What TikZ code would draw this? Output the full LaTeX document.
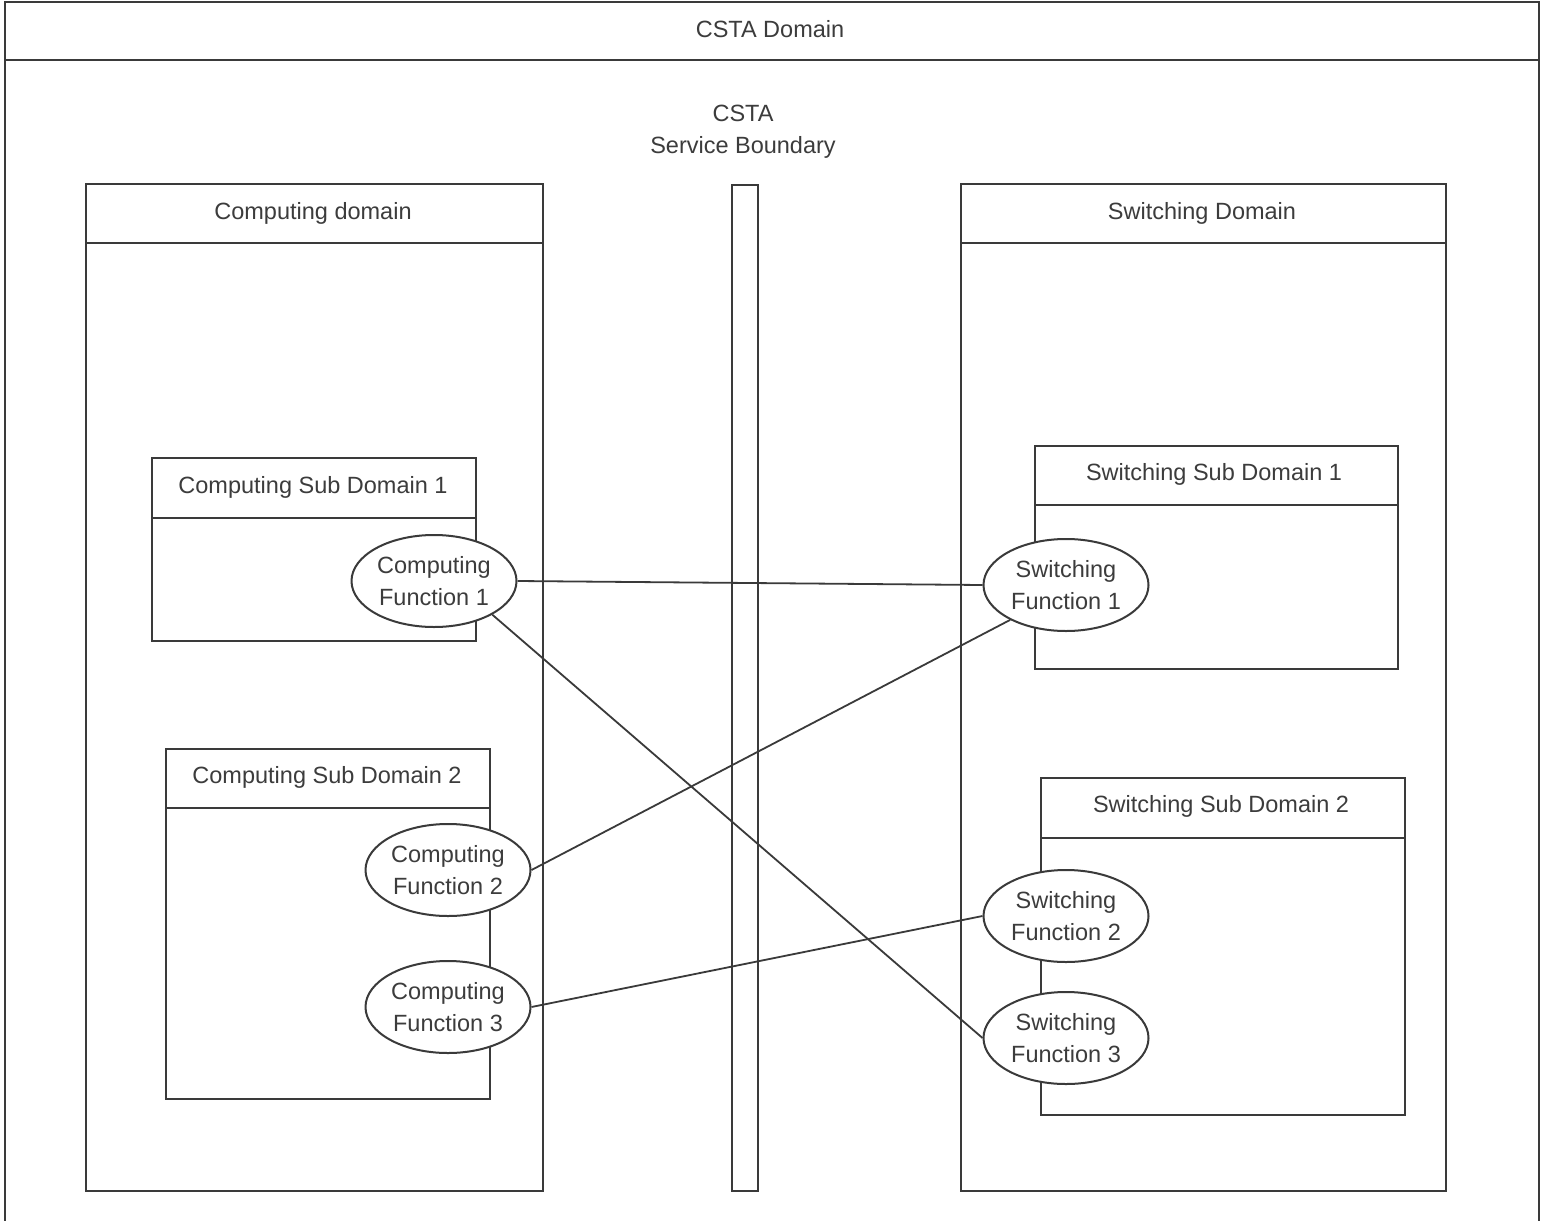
\documentclass[tikz,border=0pt]{standalone}
\usepackage{fontspec}
\setmainfont{Liberation Sans}
\usetikzlibrary{shapes.geometric}
\definecolor{lc}{HTML}{3A3A3A}
\definecolor{tc}{HTML}{3C3C3C}
\begin{document}
\begin{tikzpicture}[x=1pt,y=-1pt,
  ln/.style={draw=lc, line width=2.4pt},
  box/.style={ln, rectangle, inner sep=0pt, anchor=north west},
  ttl/.style={text=tc, font=\fontsize{23.5}{32}\selectfont, inner sep=0pt, align=center},
  fn/.style={ellipse, draw=lc, line width=2pt, fill=white, minimum width=165pt, minimum height=92pt, inner sep=0pt, text=tc, font=\fontsize{23.5}{32}\selectfont, align=center},
  conn/.style={draw=lc, line width=1.8pt}]
\useasboundingbox[fill=white] (0,0) rectangle (1546,1220);

% outer CSTA domain
\node[box, minimum width=1534pt, minimum height=1260pt] (csta) at (4,1) {};
\draw[ln] ([yshift=-59pt]csta.north west) -- ([yshift=-59pt]csta.north east);
\node[ttl] (cstat) at (770,29) {CSTA Domain};

% service boundary
\node[ttl] (sbt) at (743,132) {CSTA\\Service Boundary};
\node[box, minimum width=26pt, minimum height=1006pt, line width=2pt] (bar) at (731,184) {};

% computing domain
\node[box, minimum width=457pt, minimum height=1007pt] (cd) at (85,183) {};
\draw[ln] ([yshift=-60pt]cd.north west) -- ([yshift=-60pt]cd.north east);
\node[ttl] (cdt) at (313,213) {Computing domain};

% switching domain
\node[box, minimum width=485pt, minimum height=1007pt] (sd) at (960,183) {};
\draw[ln] ([yshift=-60pt]sd.north west) -- ([yshift=-60pt]sd.north east);
\node[ttl] (sdt) at (1202,213) {Switching Domain};

% computing sub domains
\node[box, minimum width=324pt, minimum height=183pt] (csd1) at (151,457) {};
\draw[ln] ([yshift=-61pt]csd1.north west) -- ([yshift=-61pt]csd1.north east);
\node[ttl] (csd1t) at (313,487) {Computing Sub Domain 1};

\node[box, minimum width=324pt, minimum height=350pt] (csd2) at (165,748) {};
\draw[ln] ([yshift=-60pt]csd2.north west) -- ([yshift=-60pt]csd2.north east);
\node[ttl] (csd2t) at (327,777) {Computing Sub Domain 2};

% switching sub domains
\node[box, minimum width=363pt, minimum height=223pt] (ssd1) at (1034,445) {};
\draw[ln] ([yshift=-60pt]ssd1.north west) -- ([yshift=-60pt]ssd1.north east);
\node[ttl] (ssd1t) at (1214,474) {Switching Sub Domain 1};

\node[box, minimum width=364pt, minimum height=337pt] (ssd2) at (1040,777) {};
\draw[ln] ([yshift=-61pt]ssd2.north west) -- ([yshift=-61pt]ssd2.north east);
\node[ttl] (ssd2t) at (1221,806) {Switching Sub Domain 2};

% functions
\node[fn] (cf1) at (434,581) {Computing\\Function 1};
\node[fn] (cf2) at (448,870) {Computing\\Function 2};
\node[fn] (cf3) at (448,1007) {Computing\\Function 3};
\node[fn] (sf1) at (1066,585) {Switching\\Function 1};
\node[fn] (sf2) at (1066,916) {Switching\\Function 2};
\node[fn] (sf3) at (1066,1038) {Switching\\Function 3};

% connectors
\draw[conn] (cf1.east) -- (sf1.west);
\draw[conn] (cf1.-30) -- (sf3.west);
\draw[conn] (cf2.east) -- (sf1.212);
\draw[conn] (cf3.east) -- (sf2.west);
\end{tikzpicture}
\end{document}
